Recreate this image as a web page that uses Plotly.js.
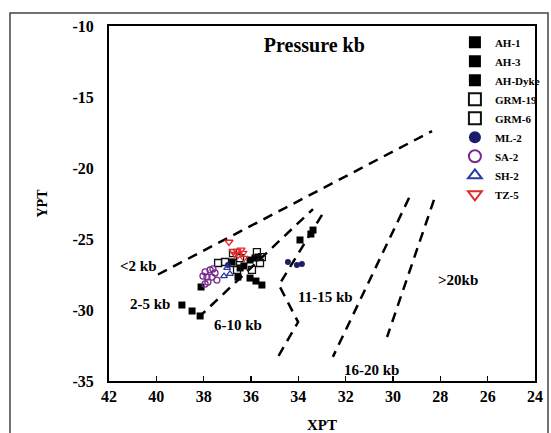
<!DOCTYPE html>
<html>
<head>
<meta charset="utf-8">
<script src="https://cdn.plot.ly/plotly-3.0.1.min.js"></script>
<style>html,body{margin:0;padding:0;background:#fff;}#chart{width:551px;height:433px;}</style>
</head>
<body>
<div id="chart"></div>
<script>
// ---- Sample data (XPT, YPT) ----
var ah1X = [38.92, 38.49, 38.15, 38.11];
var ah1Y = [-29.65, -30.07, -30.42, -28.38];
var ah3X = [36.55, 36.04, 35.79, 35.54, 36.46, 36.80];
var ah3Y = [-27.68, -27.75, -27.96, -28.24, -27.04, -26.62];
var ahDykeX = [36.30, 36.04, 35.83, 35.70, 33.93, 33.47, 33.38];
var ahDykeY = [-26.90, -26.48, -26.34, -26.27, -25.07, -24.65, -24.37];
var grm19X = [37.39, 36.76, 36.76, 36.46, 37.10];
var grm19Y = [-26.69, -25.99, -26.69, -26.34, -26.62];
var grm6X = [35.75, 35.54, 35.96, 36.59, 35.62];
var grm6Y = [-25.92, -26.27, -27.18, -27.18, -26.69];
var ml2X = [34.44, 34.06, 33.85, 36.97];
var ml2Y = [-26.62, -26.83, -26.76, -26.83];
var sa2X = [37.94, 37.73, 37.61, 38.03, 37.86, 37.65, 37.82, 37.44, 37.94, 37.52];
var sa2Y = [-27.32, -27.18, -27.11, -27.61, -27.68, -27.68, -28.03, -27.89, -28.17, -27.39];
var sh2X = [37.01, 36.89, 37.14];
var sh2Y = [-27.04, -27.46, -27.61];
var tz5X = [36.93, 36.76, 36.59, 36.42, 36.34, 36.55, 36.30, 36.68];
var tz5Y = [-25.21, -25.85, -25.85, -25.77, -25.99, -26.13, -26.34, -26.06];

// ---- Pressure field boundaries ----
var bound1X = [39.93, 28.35];
var bound1Y = [-27.5, -17.4];
var bound2X = [38.24, 33.38];
var bound2Y = [-30.56, -22.89];
var bound3X = [33.0, 34.82, 34.01, 34.86];
var bound3Y = [-23.3, -28.24, -30.85, -33.3];
var bound4X = [29.32, 32.54];
var bound4Y = [-22.1, -33.3];
var bound5X = [28.27, 30.25];
var bound5Y = [-22.25, -31.9];

// ---- Field labels ----
var fieldText = ['&lt;2 kb', '2-5 kb', '6-10 kb', '11-15 kb', '16-20 kb', '&gt;20kb'];
var fieldX = [40.77, 40.27, 36.55, 32.85, 30.89, 27.25];
var fieldY = [-26.9, -29.58, -31.06, -29.08, -34.2, -27.9];

var xTicks = [42, 40, 38, 36, 34, 32, 30, 28, 26, 24];
var yTicks = [-10, -15, -20, -25, -30, -35];

var serif = 'Liberation Serif, Times New Roman, serif';

function pts(name, x, y, symbol, color, size, open) {
  return {
    type: 'scatter', mode: 'markers', name: name, x: x, y: y,
    marker: {
      symbol: symbol, size: size, color: color,
      line: {color: color, width: open ? 1.3 : 0}
    }
  };
}
function bound(x, y) {
  return {type: 'scatter', mode: 'lines', x: x, y: y, showlegend: false,
    hoverinfo: 'skip', line: {color: '#000', width: 2.5, dash: '10px,7px'}};
}

var traces = [
  bound(bound1X, bound1Y), bound(bound2X, bound2Y), bound(bound3X, bound3Y),
  bound(bound4X, bound4Y), bound(bound5X, bound5Y),
  pts('AH-1', ah1X, ah1Y, 'square', '#000', 7, false),
  pts('AH-3', ah3X, ah3Y, 'square', '#000', 7, false),
  pts('AH-Dyke', ahDykeX, ahDykeY, 'square', '#000', 7, false),
  pts('GRM-19', grm19X, grm19Y, 'square-open', '#111', 7, true),
  pts('GRM-6', grm6X, grm6Y, 'square-open', '#111', 7, true),
  pts('ML-2', ml2X, ml2Y, 'circle', '#1c1c6b', 6, false),
  pts('SA-2', sa2X, sa2Y, 'circle-open', '#7a2a8c', 6, true),
  pts('SH-2', sh2X, sh2Y, 'triangle-up-open', '#2b3c9e', 6, true),
  pts('TZ-5', tz5X, tz5Y, 'triangle-down-open', '#e02a2a', 7, true)
];

var annotations = fieldText.map(function (t, i) {
  return {x: fieldX[i], y: fieldY[i], xref: 'x', yref: 'y', text: '<b>' + t + '</b>',
    showarrow: false, font: {family: serif, size: 15, color: '#000'}};
});

var layout = {
  width: 551, height: 433,
  margin: {l: 109, r: 16, t: 26, b: 52, autoexpand: false},
  paper_bgcolor: '#fff', plot_bgcolor: '#fff',
  font: {family: serif, color: '#000'},
  title: {text: '<b>Pressure kb</b>', font: {family: serif, size: 20, color: '#000'},
    x: 0.482, xref: 'paper', xanchor: 'center', y: 0.895, yanchor: 'middle'},
  xaxis: {
    range: [42, 24], tickvals: xTicks, ticktext: xTicks.map(String),
    ticks: 'inside', ticklen: 5, tickwidth: 1.2, tickcolor: '#000',
    showline: true, linecolor: '#000', linewidth: 2, mirror: true,
    showgrid: false, zeroline: false,
    tickfont: {family: serif, size: 16, weight: 'bold', color: '#000'},
    title: {text: 'XPT', font: {family: serif, size: 15, weight: 'bold', color: '#000'}, standoff: 20}
  },
  yaxis: {
    range: [-35, -10], tickvals: yTicks, ticktext: yTicks.map(String),
    ticks: 'inside', ticklen: 0, tickcolor: '#000',
    showline: true, linecolor: '#000', linewidth: 2, mirror: true,
    showgrid: false, zeroline: false, ticklabelstandoff: 10,
    tickfont: {family: serif, size: 16, weight: 'bold', color: '#000'},
    title: {text: 'YPT', font: {family: serif, size: 14, weight: 'bold', color: '#000'}, standoff: 22}
  },
  legend: {
    x: 0.812, y: 0.995, xanchor: 'left', yanchor: 'top',
    bgcolor: 'rgba(0,0,0,0)', borderwidth: 0, itemsizing: 'constant',
    font: {family: serif, size: 11, weight: 'bold', color: '#000'}
  },
  annotations: annotations,
  shapes: [{
    type: 'rect', xref: 'paper', yref: 'paper',
    x0: -0.2324, x1: 1.0305, y0: -0.2, y1: 1.0366,
    line: {color: '#444', width: 1.5}, fillcolor: 'rgba(0,0,0,0)', layer: 'below'
  }]
};

Plotly.newPlot('chart', traces, layout, {displayModeBar: false, staticPlot: true});
</script>
</body>
</html>
